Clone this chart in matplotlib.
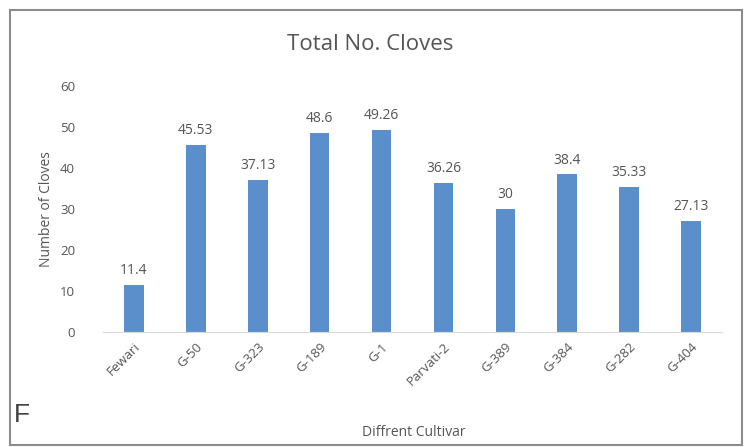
import matplotlib
matplotlib.use("Agg")
import matplotlib.pyplot as plt
from matplotlib.patches import Rectangle

cultivars = ["Fewari", "G-50", "G-323", "G-189", "G-1", "Parvati-2",
             "G-389", "G-384", "G-282", "G-404"]
cloves = [11.4, 45.53, 37.13, 48.6, 49.26, 36.26, 30, 38.4, 35.33, 27.13]
value_labels = ["11.4", "45.53", "37.13", "48.6", "49.26", "36.26",
                "30", "38.4", "35.33", "27.13"]
y_ticks = [0, 10, 20, 30, 40, 50, 60]

plt.rcParams["font.family"] = ["Open Sans", "DejaVu Sans"]
text_gray = "#555555"

fig = plt.figure(figsize=(7.5, 4.47), dpi=100)
ax = fig.add_axes([0.137, 0.257, 0.826, 0.551])

x = range(len(cultivars))
ax.bar(x, cloves, width=0.32, color="#5b8fcc", zorder=2)

for xi, v, lab in zip(x, cloves, value_labels):
    ax.annotate(lab, (xi, v), xytext=(0, 5), textcoords="offset points",
                ha="center", va="bottom", fontsize=10, color=text_gray)

ax.set_xlim(-0.5, len(cultivars) - 0.5)
ax.set_ylim(0, 60)
ax.set_yticks(y_ticks)
ax.set_xticks(list(x))
ax.set_xticklabels(cultivars, rotation=45, ha="right", rotation_mode="anchor",
                   fontsize=9.5, color=text_gray)
ax.tick_params(axis="y", labelsize=9.5, labelcolor=text_gray, length=0, pad=20)
ax.tick_params(axis="x", length=0, pad=6)

for side in ["top", "right", "left"]:
    ax.spines[side].set_visible(False)
ax.spines["bottom"].set_color("#d9d9d9")

ax.set_ylabel("Number of Cloves", fontsize=10, color=text_gray, labelpad=4)
fig.text(0.551, 0.033, "Diffrent Cultivar", ha="center", va="center",
         fontsize=10, color=text_gray)
fig.text(0.493, 0.9, "Total No. Cloves", ha="center", va="center",
         fontsize=16, color=text_gray)
fig.text(0.029, 0.072, "F", ha="center", va="center", fontsize=19,
         color="#404040", family=["Liberation Sans", "DejaVu Sans"])

fig.patches.append(Rectangle((0.013, 0.005), 0.976, 0.972,
                             transform=fig.transFigure, fill=False,
                             edgecolor="#8c8c8c", linewidth=1.5))

fig.savefig("out.png", dpi=100)
